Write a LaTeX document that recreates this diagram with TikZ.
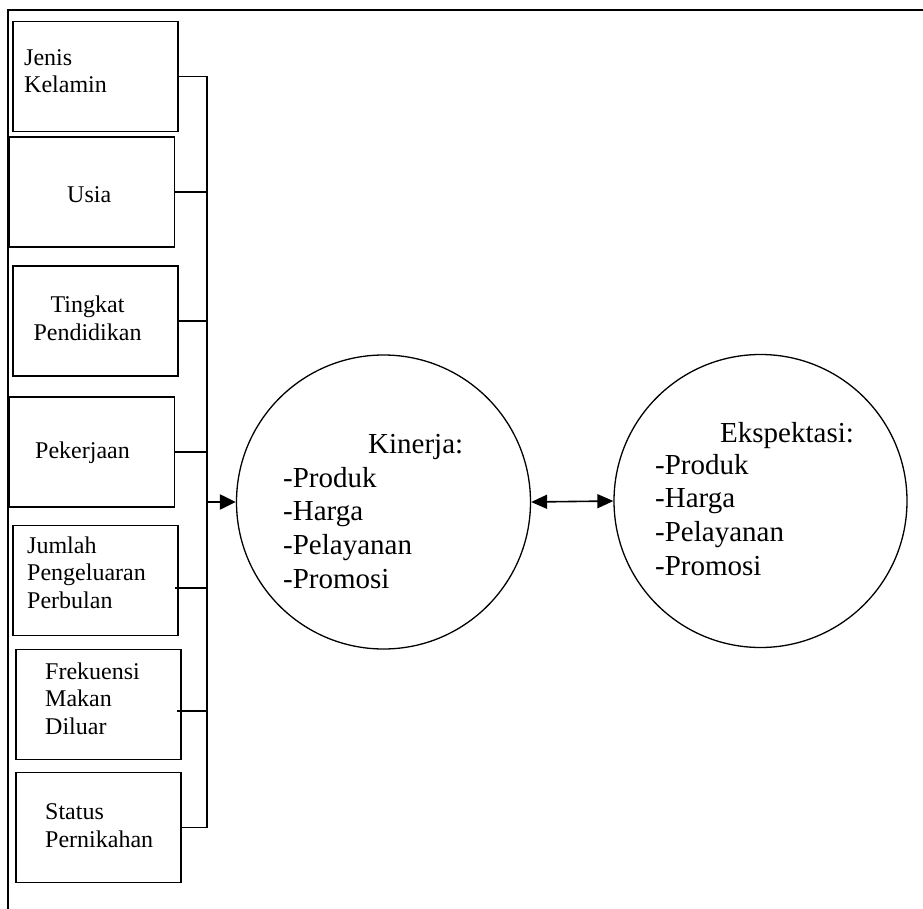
\documentclass[tikz,border=0pt]{standalone}
\usepackage{fontspec}
\setmainfont{Liberation Serif}
\usetikzlibrary{arrows.meta, positioning, calc}
\tikzset{
  kotak/.style     = {draw, line width=1.3pt, minimum width=165pt, minimum height=110pt, inner sep=0pt},
  lingkaran/.style = {draw, circle, line width=1.3pt, inner sep=0pt},
  garis/.style     = {line width=1.3pt},
  panah/.style     = {-{Triangle[length=16pt, width=15pt]}, line width=2.2pt},
  panahdua/.style  = {{Triangle[length=16pt, width=14pt]}-{Triangle[length=16pt, width=14pt]}, line width=1.6pt},
  teks/.style      = {inner sep=0pt, align=left, font=\fontsize{24}{27.5}\selectfont},
  isi/.style       = {inner sep=0pt, align=left, font=\fontsize{29}{33.6}\selectfont},
}
\begin{document}
\begin{tikzpicture}[x=1pt, y=-1pt]

\useasboundingbox (0,0) rectangle (923,909);

% ---- Frame (top and left only) ----------------------------------------------
\draw[garis] (923,10) -- (8,10) -- (8,909);

% ---- Variable boxes ---------------------------------------------------------
\foreach \nm/\cx/\cy in {jk/95.5/76.5, us/92/192, tp/95.5/321, pk/92/452,
                         jm/95.5/580.5, fm/98.5/704.5, st/98.5/827.5}
  \node[kotak] (\nm) at (\cx,\cy) {};

% base = baseline of the last line
\node[teks, anchor=base west] (tjk) at (24,93)  {Jenis\\Kelamin};
\node[teks, anchor=base west] (tus) at (67,203) {Usia};
\node[teks, anchor=base, align=center] (ttp) at (87.5,340) {Tingkat\\Pendidikan};
\node[teks, anchor=base west] (tpk) at (35,458) {Pekerjaan};
\node[teks, anchor=base west] (tjm) at (27,608) {Jumlah\\Pengeluaran\\Perbulan};
\node[teks, anchor=base west] (tfm) at (45,734) {Frekuensi\\Makan\\Diluar};
\node[teks, anchor=base west] (tst) at (45,847) {Status\\Pernikahan};

% ---- Circles ----------------------------------------------------------------
\node[lingkaran, minimum size=294pt] (kin) at (383.5,502) {};
\node[lingkaran, minimum size=293pt] (eks) at (760.5,501) {};

\node[isi, anchor=base west] (kinJudul) at (368,453) {Kinerja:};
\node[isi, anchor=base west] (kinIsi)   at (283,588) {-Produk\\-Harga\\-Pelayanan\\-Promosi};
\node[isi, anchor=base west] (eksJudul) at (720,442) {Ekspektasi:};
\node[isi, anchor=base west] (eksIsi)   at (655,575) {-Produk\\-Harga\\-Pelayanan\\-Promosi};

% ---- Bus connectors ---------------------------------------------------------
\coordinate (bus) at (207,0);
\foreach \nm/\dx/\dy in {jk/0/0, us/0/0, tp/0/0, pk/0/0, jm/-4/7.5, fm/-5/6.5, st/0/0}
  \draw[garis] ([shift={(\dx,\dy)}]\nm.east) coordinate (c\nm) -- (c\nm -| bus);
\draw[garis] (cjk -| bus) -- (cst -| bus);
\draw[line width=2.4pt] (cus -| bus) -- (cfm -| bus);

% ---- Arrows -----------------------------------------------------------------
\draw[panah] (bus |- kin.west) -- (kin.west);
\draw[panahdua] (kin.east) -- (eks.west);

\end{tikzpicture}
\end{document}
